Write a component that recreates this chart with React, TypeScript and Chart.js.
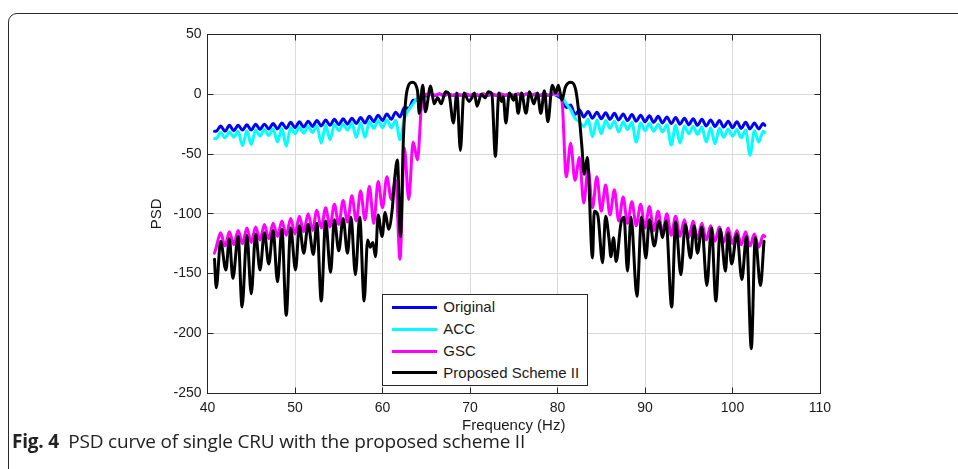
import React, { useEffect, useRef } from "react";
import { Chart, registerables } from "chart.js";

Chart.register(...registerables);

// ---------- data ----------
const seriesNames = ["Original", "ACC", "GSC", "Proposed Scheme II"];
const seriesColors = ["#0000ff", "#00ffff", "#ff00ff", "#000000"];

const xTicks = [40, 50, 60, 70, 80, 90, 100, 110];
const yTicks = [-250, -200, -150, -100, -50, 0, 50];

// frequency grid (Hz) shared by Original, ACC and GSC
const freqGrid = [
  40.8,
  41, 41.5, 42, 42.5, 43, 43.5, 44, 44.5, 45, 45.5, 46, 46.5, 47, 47.5, 48, 48.5, 49, 49.5, 50, 50.5,
  51, 51.5, 52, 52.5, 53, 53.5, 54, 54.5, 55, 55.5, 56, 56.5, 57, 57.5, 58, 58.5, 59, 59.5, 60, 60.5,
  61, 61.5, 62, 62.5, 63, 63.5, 64, 64.5, 65, 65.5, 66, 66.5, 67, 67.5, 68, 68.5, 69, 69.5, 70, 70.5,
  71, 71.5, 72, 72.5, 73, 73.5, 74, 74.5, 75, 75.5, 76, 76.5, 77, 77.5, 78, 78.5, 79, 79.5, 80, 80.5,
  81, 81.5, 82, 82.5, 83, 83.5, 84, 84.5, 85, 85.5, 86, 86.5, 87, 87.5, 88, 88.5, 89, 89.5, 90, 90.5,
  91, 91.5, 92, 92.5, 93, 93.5, 94, 94.5, 95, 95.5, 96, 96.5, 97, 97.5, 98, 98.5, 99, 99.5, 100, 100.5,
  101, 101.5, 102, 102.5, 103, 103.5,
  103.7,
];

const originalPSD = [
  -31,
  -31, -26.5, -31, -26, -30.5, -26, -30, -25.5, -30, -25, -29.5, -25, -29, -24.5, -29, -24, -28.5, -23.5, -28, -23,
  -27.5, -22.5, -27, -22, -26.5, -21.5, -26, -21, -25.5, -20.5, -25, -20, -24.5, -19.5, -24, -18.5, -23, -17.5, -22, -16.5,
  -21, -15, -19, -11, -12, -5, -5, -1, -1.5, 0, -1, 0, -1, 0, -1, 0, -1, 0, -1, 0,
  -1, 0, -1, 0, -1, 0, -1, 0, -1, 0, -1, 0, -1, 0, -1, 0, -1, 0, -1.5, -4,
  -11, -9, -17, -13, -19, -14.5, -20, -15, -20.5, -15.5, -21, -16, -21.5, -16.5, -22, -17, -22.5, -17.5, -23, -18,
  -23.5, -18.5, -24, -19, -24.5, -19.5, -25, -20, -25.5, -20.5, -26, -21, -26.5, -21.5, -27, -22, -27.5, -22.5, -28, -23,
  -28.5, -23.5, -29, -24, -29, -24.5,
  -26,
];

const accPSD = [
  -37,
  -37, -32, -36.5, -31.5, -36, -31, -43, -30.5, -42, -30, -35, -29.5, -34.5, -29, -40, -28.5, -43.5, -28, -33, -27.5,
  -32.5, -27, -32, -26.5, -41, -26, -38, -25.5, -30.5, -25, -30, -24.5, -36, -24, -36, -23, -28.5, -22, -28, -21.5,
  -28, -22, -38, -20, -13, -8, -3, -1, -0.5, 0, -0.5, 0, -0.5, 0, -0.5, 0, -0.5, 0, -0.5, 0,
  -0.5, 0, -0.5, 0, -0.5, 0, -0.5, 0, -0.5, 0, -0.5, 0, -0.5, 0, -0.5, 0, -0.5, 0, -0.5, -2,
  -8, -13, -20, -23, -27, -21, -35.5, -21.5, -33, -22, -28.5, -22.5, -31.5, -23, -29.5, -23.5, -40, -24, -30.5, -24.5,
  -31, -25, -31.5, -25.5, -42.5, -26, -41, -26.5, -33, -27, -33.5, -27.5, -40, -28, -41.5, -28.5, -36, -29, -35, -29.5,
  -36.5, -30, -51, -30.5, -40, -31,
  -32,
];

const gscPSD = [
  -133,
  -128, -116, -127, -115, -126, -114, -125, -112, -124, -111, -122, -109, -121, -108, -119, -106, -118, -104, -117, -102,
  -115, -100, -114, -97, -112, -95, -111, -92, -109, -89, -107, -85, -106, -81, -105, -77, -108, -73, -95, -69,
  -88, -72, -138, -45, -88, -40, -55, -6, 0, 0.5, -1, 0.5, -1, 0.5, -1, 0.5, -1, 0.5, -1, 0.5,
  -1, 0.5, -1, 0.5, -1, 0.5, -1, 0.5, -1, 0.5, -1, 0.5, -1, 0.5, -1, 0.5, -1, 0.5, 0, -5,
  -69, -41, -72, -53, -91, -62, -95, -69, -98, -76, -101, -80, -106, -86, -108, -90, -110, -92, -112, -94,
  -114, -98, -116, -100, -118, -102, -119, -105, -120, -106, -121, -108, -122, -110, -123, -111, -124, -112, -125, -114,
  -126, -115, -127, -117, -128, -118,
  -119,
];

// Proposed Scheme II has its own frequency samples
const proposedFreq = [
  40.8, 41.0, 41.5, 42.1, 42.5, 42.9, 43.5, 43.95, 44.5, 45.0, 45.5, 46.0, 46.5, 47.0, 47.5, 48.0, 48.5, 49.0, 49.5, 50.06,
  50.5, 51.0, 51.5, 52.1, 52.5, 53.0, 53.5, 54.07, 54.5, 55.0, 55.5, 56.0, 56.4, 56.9, 57.4, 57.9, 58.3, 58.6, 58.9, 59.2,
  59.5, 59.95, 60.3, 60.7, 61.1, 61.4, 61.7, 62.05, 62.4, 62.8, 63.4, 64.0, 64.2, 64.6, 64.9, 65.5, 65.9, 66.3, 66.7, 67.2,
  67.6, 68.1, 68.5, 68.9, 69.3, 69.9, 70.2, 70.5, 70.8, 71.3, 71.7, 72.1, 72.5, 72.9, 73.3, 73.6, 73.8, 74.1, 74.5, 75.0,
  75.2, 75.5, 75.9, 76.4, 76.8, 77.3, 77.7, 78.1, 78.5, 78.9, 79.4, 79.8, 80.1, 80.5, 80.9, 81.5, 82.1, 82.5, 82.8, 83.05,
  83.4, 84.0, 84.2, 84.6, 85.15, 85.5, 85.9, 86.1, 86.4, 86.7, 87.25, 87.6, 88.0, 88.4, 89.08, 89.6, 90.1, 90.5, 91.06, 91.6,
  92.0, 92.4, 93.05, 93.5, 94.1, 94.6, 95.2, 95.6, 96.0, 96.5, 97.07, 97.6, 98.1, 98.6, 99.2, 99.5, 99.9, 100.5, 101.07, 101.6,
  102.15, 102.6, 103.2, 103.6,
];
const proposedPSD = [
  -138, -162, -123, -147, -121, -154, -119, -178, -118, -167, -117, -147, -116, -142, -114, -157, -113, -185, -112, -147,
  -110, -133, -109, -134, -108, -173, -106, -149, -105, -131, -104, -133, -103, -151, -103, -173, -122, -128, -124, -136,
  -101, -119, -99, -113, -97, -70, -55, -119, -35, 3, 10, 3, -16, 7.5, -14.7, 7, -8, -3, -8, 2,
  0, -24, 1, -47, 1, -6, -3, 1, -10, 0, -3, 2, 0, -52, 1, -6, -2, -24, 1, -5,
  0, -16, 1, -16, 2, -8, 1, -16, 3, -23, 7.5, 1, 7.5, -5, 6, 10, 3, -20, -45, -67,
  -53, -137, -98, -101, -141, -102, -122, -136, -120, -140, -108, -103, -148, -103, -169, -103, -137, -105, -127, -106,
  -120, -106, -178, -107, -151, -109, -137, -110, -133, -111, -160, -112, -173, -113, -148, -116, -142, -117, -155, -119,
  -213, -120, -160, -123,
];

// ---------- styling constants ----------
const W = 958;
const H = 469;
const tickFont = { family: '"Liberation Sans", Arial, sans-serif', size: 14 };
const titleFont = { family: '"Liberation Sans", Arial, sans-serif', size: 15 };
const axisColor = "#262626";

function alignPx(p: number) {
  return Math.round(p - 0.5) + 0.5;
}

const boxPlugin = {
  id: "matlabBox",
  afterDatasetsDraw(chart: any) {
    const { ctx, chartArea } = chart;
    const xs = chart.scales.x;
    const ys = chart.scales.y;
    const l = alignPx(chartArea.left);
    const r = alignPx(chartArea.right);
    const t = alignPx(chartArea.top);
    const b = alignPx(chartArea.bottom);
    ctx.save();
    ctx.strokeStyle = axisColor;
    ctx.lineWidth = 1;
    ctx.strokeRect(l, t, r - l, b - t);
    const tl = 6;
    ctx.beginPath();
    xTicks.forEach((v) => {
      const px = alignPx(xs.getPixelForValue(v));
      ctx.moveTo(px, b);
      ctx.lineTo(px, b - tl);
      ctx.moveTo(px, t);
      ctx.lineTo(px, t + tl);
    });
    yTicks.forEach((v) => {
      const py = alignPx(ys.getPixelForValue(v));
      ctx.moveTo(l, py);
      ctx.lineTo(l + tl, py);
      ctx.moveTo(r, py);
      ctx.lineTo(r - tl, py);
    });
    ctx.stroke();
    ctx.restore();
  },
};

export default function App() {
  const canvasRef = useRef<HTMLCanvasElement | null>(null);

  useEffect(() => {
    const canvas = canvasRef.current;
    if (!canvas) return;
    const seriesX = [freqGrid, freqGrid, freqGrid, proposedFreq];
    const seriesY = [originalPSD, accPSD, gscPSD, proposedPSD];
    const datasets = seriesNames.map((name, i) => ({
      label: name,
      data: seriesX[i].map((x, j) => ({ x, y: seriesY[i][j] })),
      borderColor: seriesColors[i],
      backgroundColor: seriesColors[i],
      borderWidth: 3,
      pointRadius: 0,
      fill: false,
      order: 4 - i,
    }));

    const chart = new Chart(canvas, {
      type: "line",
      data: { datasets },
      options: {
        animation: false,
        responsive: false,
        devicePixelRatio: 1,
        layout: { padding: { left: 140, right: 138, top: 34.5, bottom: 26 } },
        elements: {
          point: { radius: 0 },
          line: {
            tension: 0.3,
            cubicInterpolationMode: "monotone",
            borderJoinStyle: "round",
            borderCapStyle: "round",
          },
        },
        plugins: {
          legend: { display: false },
          tooltip: { enabled: false },
        },
        scales: {
          x: {
            type: "linear",
            min: 40,
            max: 110,
            afterFit: (s: any) => {
              s.height = 50;
            },
            afterBuildTicks: (s: any) => {
              s.ticks = xTicks.map((v) => ({ value: v }));
            },
            ticks: {
              padding: 7,
              font: tickFont,
              color: "#1a1a1a",
              maxRotation: 0,
              autoSkip: false,
            },
            grid: { color: "#d9d9d9", lineWidth: 1, drawTicks: false },
            border: { display: false },
            title: {
              display: true,
              text: "Frequency (Hz)",
              font: titleFont,
              color: "#1a1a1a",
              padding: { top: 0, bottom: 8 },
            },
          },
          y: {
            type: "linear",
            min: -250,
            max: 50,
            afterFit: (s: any) => {
              s.width = 67.5;
            },
            afterBuildTicks: (s: any) => {
              s.ticks = yTicks.map((v) => ({ value: v }));
            },
            ticks: {
              padding: 6,
              font: tickFont,
              color: "#1a1a1a",
              autoSkip: false,
            },
            grid: { color: "#d9d9d9", lineWidth: 1, drawTicks: false },
            border: { display: false },
            title: {
              display: true,
              text: "PSD",
              font: titleFont,
              color: "#1a1a1a",
              padding: { top: 8, bottom: 0 },
            },
          },
        },
      },
      plugins: [boxPlugin],
    });
    return () => chart.destroy();
  }, []);

  const legendRowY = [307.3, 329.3, 351, 372.7];

  return (
    <div
      style={{
        position: "fixed",
        left: 0,
        top: 0,
        width: W,
        height: H,
        overflow: "hidden",
        background: "#fff",
      }}
    >
      <div
        style={{
          position: "absolute",
          left: 8,
          top: 13,
          width: 1100,
          height: 700,
          border: "1px solid #2a2a2a",
          borderTopLeftRadius: 9,
          boxSizing: "border-box",
        }}
      />
      <canvas
        ref={canvasRef}
        width={W}
        height={H}
        style={{ position: "absolute", left: 0, top: 0, width: W, height: H, display: "block" }}
      />
      <div
        style={{
          position: "absolute",
          left: 381.5,
          top: 294,
          width: 206,
          height: 91.5,
          border: "1px solid " + axisColor,
          background: "#fff",
          boxSizing: "border-box",
        }}
      />
      {seriesNames.map((name, i) => (
        <React.Fragment key={name}>
          <div
            style={{
              position: "absolute",
              left: 391.7,
              top: legendRowY[i] - 1.5,
              width: 45.6,
              height: 3,
              background: seriesColors[i],
            }}
          />
          <div
            style={{
              position: "absolute",
              left: 443.3,
              top: legendRowY[i] - 9,
              height: 18,
              lineHeight: "18px",
              fontFamily: '"Liberation Sans", Arial, sans-serif',
              fontSize: 15,
              color: "#1a1a1a",
              whiteSpace: "nowrap",
            }}
          >
            {name}
          </div>
        </React.Fragment>
      ))}
      <div
        style={{
          position: "absolute",
          left: 12,
          top: 430,
          fontFamily: '"Open Sans", sans-serif',
          fontSize: 19,
          lineHeight: "22px",
          color: "#222",
          whiteSpace: "nowrap",
          letterSpacing: -0.2,
        }}
      >
        <b>Fig. 4</b>
        {"\u2002PSD curve of single CRU with the proposed scheme II"}
      </div>
    </div>
  );
}
